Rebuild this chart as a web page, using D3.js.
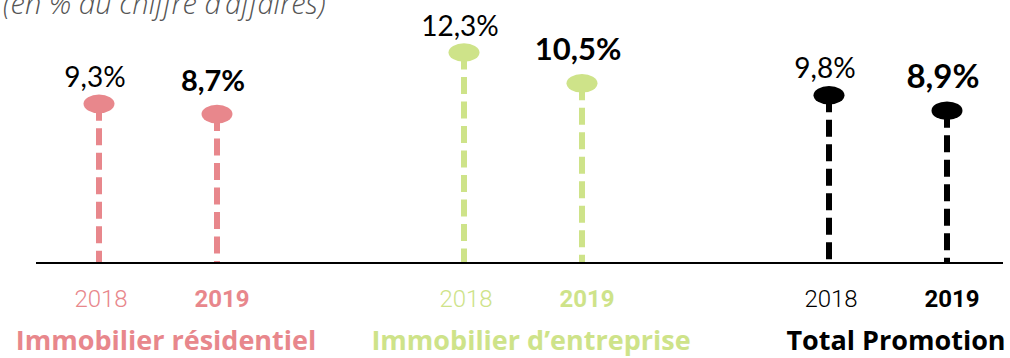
<!DOCTYPE html>
<html>
<head>
<meta charset="utf-8">
<script src="https://cdn.jsdelivr.net/npm/d3@7"></script>
<style>
  html, body { margin: 0; padding: 0; background: #ffffff; }
  svg { display: block; }
</style>
</head>
<body>
<svg id="chart" width="1010" height="358"></svg>
<script>
// Marge opérationnelle (en % du chiffre d'affaires)
const categories = ["Immobilier résidentiel", "Immobilier d’entreprise", "Total Promotion"];
const years = ["2018", "2019"];
const values2018 = [9.3, 12.3, 9.8];
const values2019 = [8.7, 10.5, 8.9];
const subtitle = "(en % du chiffre d’affaires)";

const palette = ["#E8878C", "#CEE389", "#000000"];
const labelSize2019 = [29, 31, 33];

const W = 1010, H = 358;
const baseY = 263;

const svg = d3.select("#chart");

const color = d3.scaleOrdinal(categories, palette);
const xGroup = d3.scalePoint().domain(categories).range([158, 888]);
const xYear = d3.scalePoint().domain(years).range([-59, 59]);
const y = d3.scaleLinear().domain([0, 12.3]).range([baseY, 52.5]);

const fr = d3.formatLocale({ decimal: ",", thousands: " ", grouping: [3], currency: ["", " €"] });
const fmt = v => fr.format(".1f")(v) + "%";

const points = [];
categories.forEach((c, i) => {
  points.push({ cat: c, idx: i, year: "2018", value: values2018[i] });
  points.push({ cat: c, idx: i, year: "2019", value: values2019[i] });
});
const px = d => xGroup(d.cat) + xYear(d.year);

// subtitle (runs above the top edge)
svg.append("text")
  .attr("x", 3).attr("y", 14)
  .attr("font-family", "'Open Sans', sans-serif")
  .attr("font-style", "italic")
  .attr("font-weight", 300)
  .attr("font-size", 29)
  .attr("fill", "#555")
  .text(subtitle);

// baseline
svg.append("line")
  .attr("x1", 36).attr("x2", 1003)
  .attr("y1", baseY).attr("y2", baseY)
  .attr("stroke", "#000").attr("stroke-width", 2);

// dashed stems
svg.selectAll("line.stem").data(points).join("line")
  .attr("class", "stem")
  .attr("x1", px).attr("x2", px)
  .attr("y1", d => y(d.value)).attr("y2", baseY - 1)
  .attr("stroke", d => color(d.cat))
  .attr("stroke-width", 6)
  .attr("stroke-dasharray", "17 7.5");

// ellipse heads
svg.selectAll("ellipse.head").data(points).join("ellipse")
  .attr("class", "head")
  .attr("cx", px).attr("cy", d => y(d.value))
  .attr("rx", 15.5).attr("ry", 9.3)
  .attr("fill", d => color(d.cat));

// value labels
svg.selectAll("text.val").data(points).join("text")
  .attr("class", "val")
  .attr("x", d => px(d) - 4)
  .attr("y", d => y(d.value) - (d.year === "2018" ? 17 : 23))
  .attr("text-anchor", "middle")
  .attr("font-family", "Lato, sans-serif")
  .attr("font-weight", d => d.year === "2019" ? 700 : 400)
  .attr("font-size", d => d.year === "2019" ? labelSize2019[d.idx] : 28)
  .attr("fill", "#000")
  .text(d => fmt(d.value));

// year labels
svg.selectAll("text.year").data(points).join("text")
  .attr("class", "year")
  .attr("x", d => px(d) + (d.year === "2019" ? 5 : 2))
  .attr("y", 307)
  .attr("text-anchor", "middle")
  .attr("font-family", "Roboto, sans-serif")
  .attr("font-weight", d => d.year === "2019" ? 700 : 300)
  .attr("font-size", 24)
  .attr("fill", d => color(d.cat))
  .text(d => d.year);

// category labels
svg.selectAll("text.cat").data(categories).join("text")
  .attr("class", "cat")
  .attr("x", d => xGroup(d) + 8)
  .attr("y", 350)
  .attr("text-anchor", "middle")
  .attr("font-family", "'Open Sans', sans-serif")
  .attr("font-weight", 700)
  .attr("font-size", 27)
  .attr("fill", d => color(d))
  .text(d => d);
</script>
</body>
</html>
